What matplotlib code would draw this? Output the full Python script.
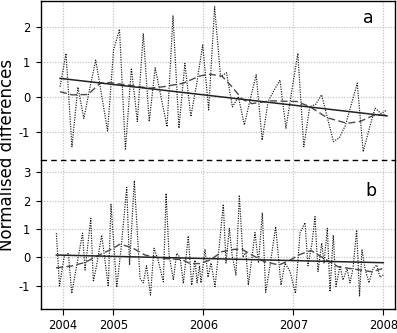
import numpy as np
import matplotlib
matplotlib.use("Agg")
import matplotlib.pyplot as plt
from matplotlib.lines import Line2D

plt.rcParams["axes.unicode_minus"] = False

# ---------------- data ----------------
# x tick positions / labels (decimal-year axis)
tick_pos = [2004.438, 2005.0, 2006.0, 2007.0, 2008.0]
tick_labels = ["2004", "2005", "2006", "2007", "2008"]

# Panel a: regularly sampled series (first/last sample time)
a_t0, a_t1 = 2004.408, 2008.041
a_vals = [0.3, 1.25, -1.41, 0.29, -0.6, 0.25, 1.06, 0.05, -0.96, 1.35,
          1.94, -1.5, 0.83, -0.69, 1.82, -0.69, 0.84, 0.0, -0.84, 2.32,
          -0.88, 0.97, -0.55, 0.4, 1.49, -0.36, 2.58, 0.59, 0.7, -0.27,
          0.02, -0.79, -0.05, 0.64, -1.22, -0.12, 0.2, 0.49, -0.88, 0.2,
          1.25, -1.41, -0.27, -0.2, 0.07, -0.6, -1.26, -1.15, -0.8, -0.2,
          0.4, -1.55, -0.9, -0.31, -0.46, -0.36]
a_smooth_x = [2004.408, 2004.541, 2004.719, 2004.852, 2004.963, 2005.152,
              2005.408, 2005.552, 2005.774, 2005.963, 2006.074, 2006.208,
              2006.319, 2006.43, 2006.541, 2006.741, 2007.041, 2007.186,
              2007.374, 2007.597, 2007.741, 2007.886, 2008.041]
a_smooth_y = [0.16, 0.07, 0.08, 0.4, 0.42, 0.35, 0.26, 0.3, 0.4, 0.61, 0.66,
              0.6, 0.3, -0.05, -0.18, -0.1, -0.12, -0.27, -0.58, -0.74,
              -0.69, -0.52, -0.5]
a_trend_x = [2004.408, 2008.041]
a_trend_y = [0.54, -0.53]

# Panel b: irregular samples
b_x = [2004.367, 2004.402, 2004.452, 2004.5, 2004.538, 2004.658, 2004.686,
       2004.749, 2004.778, 2004.819, 2004.871, 2004.944, 2004.974, 2005.038,
       2005.086, 2005.149, 2005.18, 2005.233, 2005.297, 2005.333, 2005.369,
       2005.413, 2005.452, 2005.497, 2005.556, 2005.586, 2005.619, 2005.667,
       2005.704, 2005.741, 2005.778, 2005.833, 2005.871, 2005.908, 2005.93,
       2005.958, 2005.974, 2006.019, 2006.052, 2006.086, 2006.13, 2006.174,
       2006.222, 2006.252, 2006.289, 2006.319, 2006.363, 2006.4, 2006.441,
       2006.474, 2006.5, 2006.541, 2006.574, 2006.613, 2006.656, 2006.693,
       2006.741, 2006.804, 2006.863, 2006.908, 2006.963, 2007.024, 2007.074,
       2007.13, 2007.163, 2007.208, 2007.241, 2007.274, 2007.316, 2007.341,
       2007.378, 2007.408, 2007.444, 2007.474, 2007.519, 2007.552, 2007.597,
       2007.63, 2007.663, 2007.704, 2007.736, 2007.763, 2007.797, 2007.841,
       2007.886, 2007.927, 2007.963, 2008.0]
b_vals = [0.85, -1.01, 0.0, 0.14, -1.27, 0.85, -0.45, 1.37, -0.86, -0.2,
          0.78, -1.03, 1.87, -1.06, 0.3, 2.46, -0.27, 2.7, -0.74, -0.9,
          -0.3, -1.33, 0.32, -0.1, -0.86, 2.25, 0.1, -0.8, 0.14, 0.0,
          -0.92, 0.75, -0.98, -0.1, -0.9, -0.3, -0.9, 0.28, -0.7, -0.2,
          -1.03, 0.3, 1.87, -0.2, 1.02, 0.1, -0.62, 2.19, 0.0, 0.2,
          -0.98, 0.0, 0.87, -0.2, 1.57, -1.23, -0.3, 1.08, -0.98, -0.2,
          -0.5, -1.27, 0.85, 1.22, -0.3, 0.5, 1.43, -0.5, 0.5, -0.2,
          1.02, -1.21, 0.78, -1.03, -0.3, -0.8, -0.4, -0.9, -0.4, 0.96,
          -1.36, 0.26, -0.4, -0.9, -0.4, -0.27, -0.7, -0.62]
b_smooth_x = [2004.363, 2004.53, 2004.686, 2004.83, 2004.963, 2005.074,
              2005.208, 2005.352, 2005.541, 2005.763, 2005.852, 2005.963,
              2006.074, 2006.208, 2006.341, 2006.43, 2006.519, 2006.674,
              2006.841, 2006.963, 2007.074, 2007.197, 2007.319, 2007.497,
              2007.686, 2007.874, 2007.997]
b_smooth_y = [-0.37, -0.31, -0.18, 0.06, 0.26, 0.46, 0.34, 0.08, -0.04,
              -0.08, -0.22, -0.22, -0.1, 0.2, 0.28, 0.28, 0.12, -0.15,
              -0.27, -0.1, 0.1, 0.24, 0.0, -0.33, -0.42, -0.51, -0.39]
b_trend_x = [2004.367, 2008.0]
b_trend_y = [0.08, -0.19]

a_yticks = [-1, 0, 1, 2]
b_yticks = [-1, 0, 1, 2, 3]

# ---------------- figure ----------------
W, H = 397, 333
fig = plt.figure(figsize=(W / 100, H / 100), dpi=100)
left, right = 40.7 / W, 395 / W
ya_top, y_mid, yb_bot = 1 - 1 / H, 1 - 160 / H, 1 - 309 / H
ax_a = fig.add_axes([left, y_mid, right - left, ya_top - y_mid])
ax_b = fig.add_axes([left, yb_bot, right - left, y_mid - yb_bot])

xlim = (2004.193, 2008.13)
grid_kw = dict(color="#c4c4c4", linestyle=(0, (1, 1.2)), linewidth=0.9)
dot_kw = dict(color="#1a1a1a", linestyle=(0, (1, 1.1)), linewidth=0.85)
dash_kw = dict(color="#4a4a4a", linestyle=(0, (5, 2.5)), linewidth=1.0)
trend_kw = dict(color="#222222", linewidth=1.1)

def style(ax, yticks, ylim):
    ax.set_xlim(*xlim)
    ax.set_ylim(*ylim)
    ax.set_yticks(yticks)
    ax.set_xticks(tick_pos)
    ax.grid(True, **grid_kw)
    ax.set_axisbelow(True)
    ax.tick_params(axis="y", direction="out", length=3.5, width=0.8,
                   labelsize=8.3, pad=4)
    for s in ax.spines.values():
        s.set_linewidth(1.0)
        s.set_color("black")

a_x = np.linspace(a_t0, a_t1, len(a_vals))

# panel a
style(ax_a, a_yticks, (-1.786, 2.744))
ax_a.plot(a_x, a_vals, **dot_kw)
ax_a.plot(a_smooth_x, a_smooth_y, **dash_kw)
ax_a.plot(a_trend_x, a_trend_y, **trend_kw)
ax_a.tick_params(axis="x", bottom=False, labelbottom=False)
ax_a.spines["bottom"].set_visible(False)
ax_a.text(0.925, 0.895, "a", transform=ax_a.transAxes, fontsize=12.5,
          ha="center", va="center")

# panel b
style(ax_b, b_yticks, (-1.82, 3.426))
ax_b.plot(b_x, b_vals, **dot_kw)
ax_b.plot(b_smooth_x, b_smooth_y, **dash_kw)
ax_b.plot(b_trend_x, b_trend_y, **trend_kw)
ax_b.spines["top"].set_visible(False)
ax_b.set_xticklabels(tick_labels)
ax_b.tick_params(axis="x", direction="out", length=4, width=0.8,
                 labelsize=8.3, pad=3)
ax_b.text(0.932, 0.79, "b", transform=ax_b.transAxes, fontsize=12.5,
          ha="center", va="center")

# dashed separator between the two panels
fig.add_artist(Line2D([left, right], [y_mid, y_mid], transform=fig.transFigure,
                      color="black", linewidth=1.0, linestyle=(0, (4, 3)),
                      zorder=10))

fig.text(7.5 / W, 1 - 155 / H, "Normalised differences", rotation=90,
         ha="center", va="center", fontsize=12)

fig.savefig("out.png", dpi=100)
